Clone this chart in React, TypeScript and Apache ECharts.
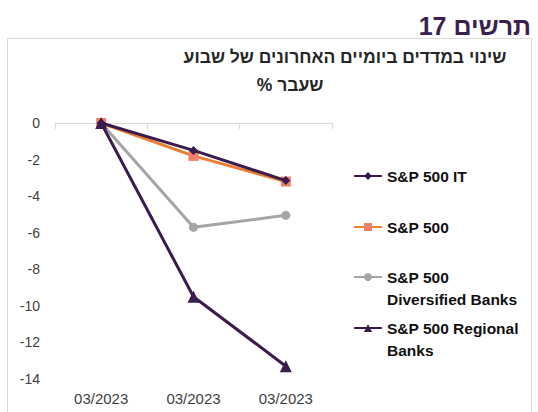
import React, { useEffect, useRef } from "react";
import * as echarts from "echarts";

const categories = ["03/2023", "03/2023", "03/2023"];
const seriesNames = ["S&P 500 IT", "S&P 500", "S&P 500 Diversified Banks", "S&P 500 Regional Banks"];
const legendLabels = ["S&P 500 IT", "S&P 500", "\nS&P 500\nDiversified Banks", "\nS&P 500 Regional\nBanks"];
const itValues = [0, -1.5, -3.15];
const spValues = [0, -1.8, -3.2];
const divBanksValues = [0, -5.7, -5.05];
const regBanksValues = [0, -9.5, -13.3];
const yTicks = { min: -14, max: 0, interval: 2 };
const headerText = "תרשים 17";
const titleLine1 = "שינוי במדדים ביומיים האחרונים של שבוע";
const titleLine2 = "% שעבר";

const FONT = "Arial, 'Liberation Sans', sans-serif";
const PURPLE = "#3b1c4e";
const ORANGE = "#ed7d31";
const SALMON = "#f4806a";
const GRAY = "#a5a5a5";

export default function App() {
  const ref = useRef<HTMLDivElement>(null);
  useEffect(() => {
    if (!ref.current) return;
    const chart = echarts.init(ref.current, null, { renderer: "svg" });
    const legendTops = [165, 216, 244, 295];
    const option: any = {
      animation: false,
      backgroundColor: "#ffffff",
      title: [
        {
          text: headerText,
          right: 2,
          top: 8,
          textStyle: { fontFamily: FONT, fontSize: 25, fontWeight: "bold", color: "#3b1f4f" },
        },
        {
          text: titleLine1,
          left: 340,
          top: 43,
          textAlign: "center",
          textStyle: { fontFamily: FONT, fontSize: 17.5, fontWeight: "bold", color: "#262626" },
        },
        {
          text: titleLine2,
          left: 285,
          top: 71,
          textAlign: "center",
          textStyle: { fontFamily: FONT, fontSize: 17.5, fontWeight: "bold", color: "#262626" },
        },
      ],
      graphic: [
        {
          type: "rect",
          shape: { x: 7.5, y: 38.5, width: 524, height: 390 },
          style: { fill: "none", stroke: "#d9d9d9", lineWidth: 1 },
          silent: true,
          z: -1,
        },
      ],
      legend: seriesNames.map((n, i) => ({
        data: [n],
        orient: "vertical",
        left: 353,
        top: legendTops[i],
        padding: 0,
        itemWidth: 28,
        itemHeight: 10,
        formatter: () => legendLabels[i],
        textStyle: { fontFamily: FONT, fontSize: 15.5, fontWeight: "bold", color: "#111", lineHeight: 22 },
        selectedMode: false,
      })),
      grid: { left: 55, right: 206, top: 123, bottom: 33 },
      xAxis: [
        {
          type: "category",
          data: categories,
          position: "top",
          boundaryGap: true,
          axisLine: { show: true, onZero: false, lineStyle: { color: "#d9d9d9", width: 1 } },
          axisTick: { show: true, inside: true, length: 6, lineStyle: { color: "#d9d9d9" } },
          axisLabel: { show: false },
          splitLine: { show: false },
        },
        {
          type: "category",
          data: categories,
          position: "bottom",
          boundaryGap: true,
          axisLine: { show: false },
          axisTick: { show: false },
          axisLabel: { show: true, margin: 12, fontFamily: FONT, fontSize: 15, color: "#404040" },
          splitLine: { show: false },
        },
      ],
      yAxis: {
        type: "value",
        min: yTicks.min,
        max: yTicks.max,
        interval: yTicks.interval,
        axisLine: { show: false },
        axisTick: { show: false },
        splitLine: { show: false },
        axisLabel: { margin: 15, fontFamily: FONT, fontSize: 14, color: "#404040" },
      },
      series: [
        {
          name: seriesNames[2],
          type: "line",
          data: divBanksValues,
          symbol: "circle",
          symbolSize: 9,
          lineStyle: { color: GRAY, width: 3 },
          itemStyle: { color: GRAY },
          z: 2,
        },
        {
          name: seriesNames[1],
          type: "line",
          data: spValues,
          symbol: "rect",
          symbolSize: 10,
          lineStyle: { color: ORANGE, width: 3 },
          itemStyle: { color: SALMON },
          z: 3,
        },
        {
          name: seriesNames[0],
          type: "line",
          data: itValues,
          symbol: "diamond",
          symbolSize: 9,
          lineStyle: { color: PURPLE, width: 3 },
          itemStyle: { color: PURPLE },
          z: 4,
        },
        {
          name: seriesNames[3],
          type: "line",
          data: regBanksValues,
          symbol: "triangle",
          symbolSize: 12,
          lineStyle: { color: PURPLE, width: 3 },
          itemStyle: { color: PURPLE },
          z: 5,
        },
      ],
    };
    chart.setOption(option);
    return () => chart.dispose();
  }, []);
  return (
    <div
      ref={ref}
      style={{ position: "fixed", left: 0, top: 0, width: 538, height: 412 }}
    />
  );
}
